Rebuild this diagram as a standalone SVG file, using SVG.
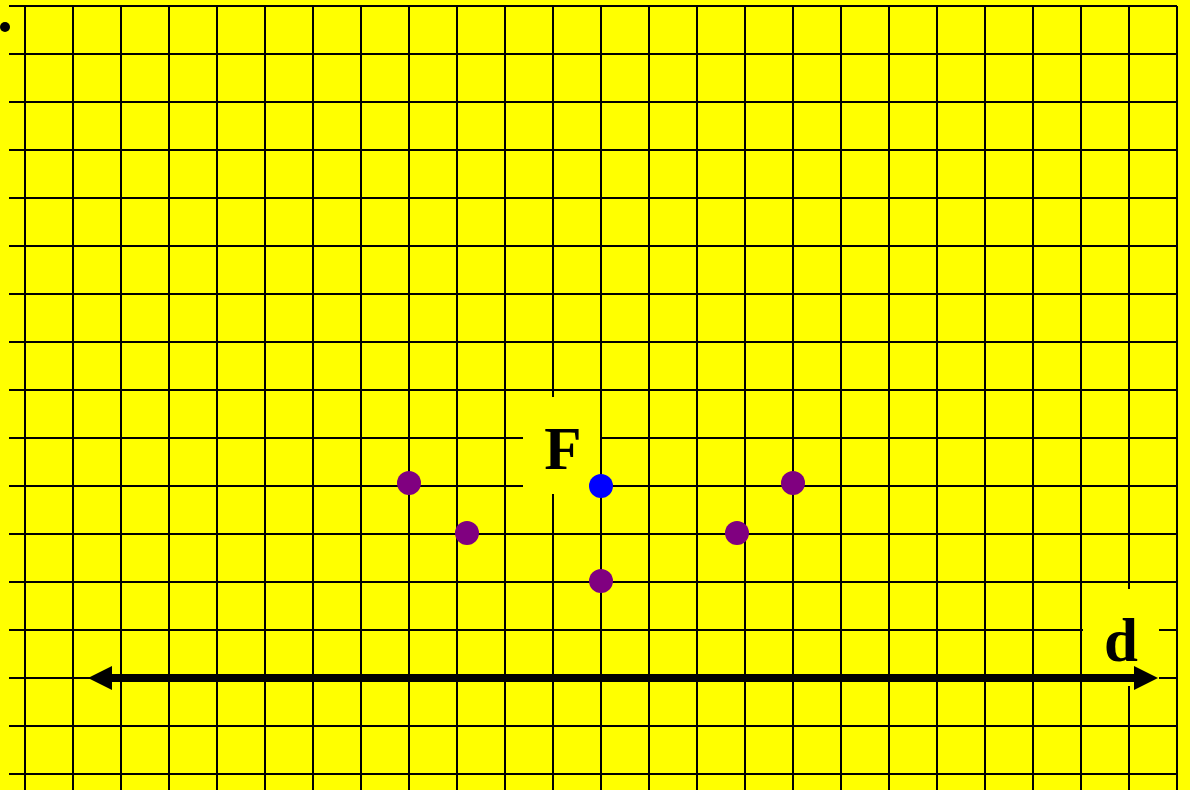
<svg xmlns="http://www.w3.org/2000/svg" width="1190" height="790" viewBox="0 0 1190 790">
<style>
.g line{stroke:#000;stroke-width:2}
.lbl{font-family:"Liberation Serif","Times New Roman",serif;font-weight:bold;font-size:61px;fill:#000;text-anchor:middle}
.lb{fill:#ffff00}
.p{fill:#800080}
</style>
<rect x="0" y="0" width="1190" height="790" fill="#ffff00"/>
<g class="g" id="grid">
<line x1="25" y1="6" x2="25" y2="790"/><line x1="73" y1="6" x2="73" y2="790"/><line x1="121" y1="6" x2="121" y2="790"/><line x1="169" y1="6" x2="169" y2="790"/><line x1="217" y1="6" x2="217" y2="790"/><line x1="265" y1="6" x2="265" y2="790"/><line x1="313" y1="6" x2="313" y2="790"/><line x1="361" y1="6" x2="361" y2="790"/><line x1="409" y1="6" x2="409" y2="790"/><line x1="457" y1="6" x2="457" y2="790"/><line x1="505" y1="6" x2="505" y2="790"/><line x1="553" y1="6" x2="553" y2="790"/><line x1="601" y1="6" x2="601" y2="790"/><line x1="649" y1="6" x2="649" y2="790"/><line x1="697" y1="6" x2="697" y2="790"/><line x1="745" y1="6" x2="745" y2="790"/><line x1="793" y1="6" x2="793" y2="790"/><line x1="841" y1="6" x2="841" y2="790"/><line x1="889" y1="6" x2="889" y2="790"/><line x1="937" y1="6" x2="937" y2="790"/><line x1="985" y1="6" x2="985" y2="790"/><line x1="1033" y1="6" x2="1033" y2="790"/><line x1="1081" y1="6" x2="1081" y2="790"/><line x1="1129" y1="6" x2="1129" y2="790"/><line x1="1177" y1="6" x2="1177" y2="790"/>
<line x1="9" y1="6" x2="1177" y2="6"/><line x1="9" y1="54" x2="1177" y2="54"/><line x1="9" y1="102" x2="1177" y2="102"/><line x1="9" y1="150" x2="1177" y2="150"/><line x1="9" y1="198" x2="1177" y2="198"/><line x1="9" y1="246" x2="1177" y2="246"/><line x1="9" y1="294" x2="1177" y2="294"/><line x1="9" y1="342" x2="1177" y2="342"/><line x1="9" y1="390" x2="1177" y2="390"/><line x1="9" y1="438" x2="1177" y2="438"/><line x1="9" y1="486" x2="1177" y2="486"/><line x1="9" y1="534" x2="1177" y2="534"/><line x1="9" y1="582" x2="1177" y2="582"/><line x1="9" y1="630" x2="1177" y2="630"/><line x1="9" y1="678" x2="1177" y2="678"/><line x1="9" y1="726" x2="1177" y2="726"/><line x1="9" y1="774" x2="1177" y2="774"/>
</g>
<circle cx="5" cy="27" r="5" fill="#000"/>
<g id="F">
<rect class="lb" x="523" y="397" width="77" height="97"/>
<text class="lbl" x="563" y="469">F</text>
</g>
<g id="d">
<rect class="lb" x="1083" y="589" width="76" height="97"/>
<text class="lbl" x="1121" y="661">d</text>
</g>
<g id="connectors">
<line x1="110" y1="678" x2="1135" y2="678" stroke="#000" stroke-width="8"/>
<path d="M88,678 L112,666 L112,690 Z" fill="#000"/>
<path d="M1158,678 L1134,666 L1134,690 Z" fill="#000"/>
</g>
<g id="focus"><circle cx="601" cy="486" r="12" fill="#0000ff"/></g>
<g id="p1"><circle class="p" cx="409" cy="483" r="12"/></g>
<g id="p2"><circle class="p" cx="467" cy="533" r="12"/></g>
<g id="p3"><circle class="p" cx="601" cy="581" r="12"/></g>
<g id="p4"><circle class="p" cx="737" cy="533" r="12"/></g>
<g id="p5"><circle class="p" cx="793" cy="483" r="12"/></g>
</svg>
